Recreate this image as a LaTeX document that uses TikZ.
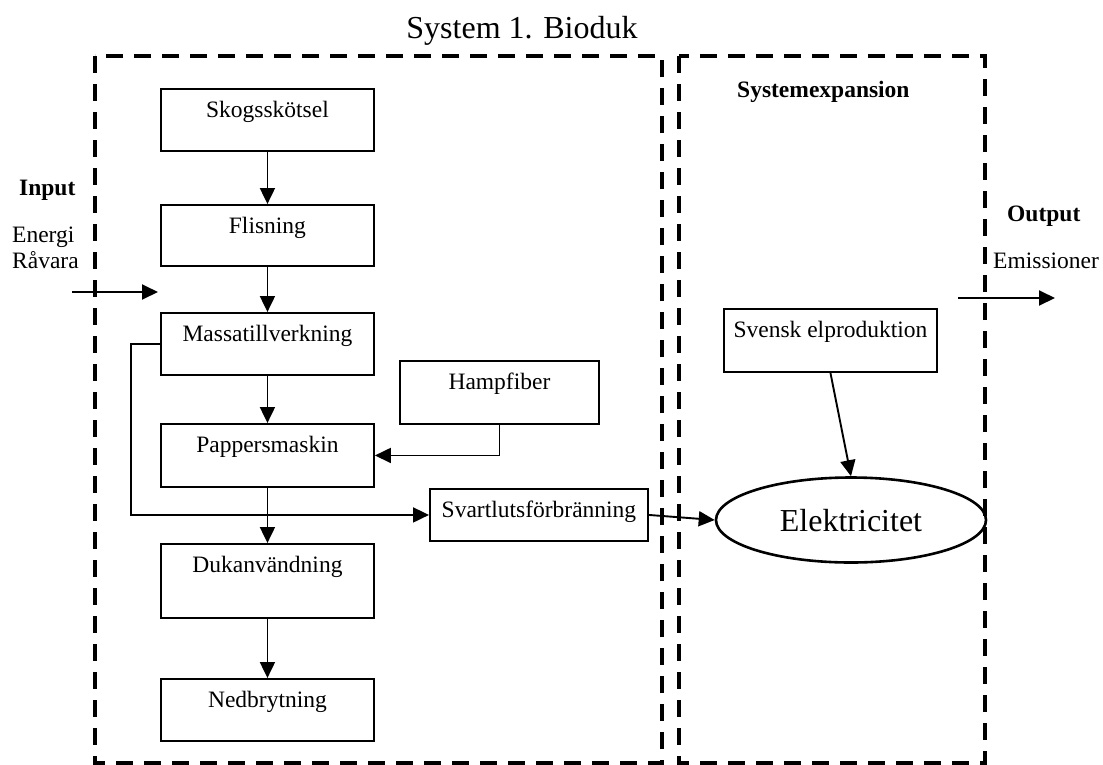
\documentclass[tikz,border=0pt]{standalone}
\usepackage{fontspec}
\setmainfont{Liberation Serif}
\usetikzlibrary{arrows.meta,shapes.geometric}

\tikzset{
  base font/.style={font=\fontsize{23.5}{28}\selectfont},
  big font/.style={font=\fontsize{32}{38}\selectfont},
  procbox/.style={draw, line width=1.9pt, rectangle, inner sep=0pt,
    text height=29pt, anchor=north west, base font},
  sysframe/.style={draw, line width=3.8pt, dash pattern=on 17pt off 11pt},
  arr/.style={line width=1.9pt, -{Triangle[length=16pt,width=15pt]}},
  label/.style={inner sep=0pt, anchor=base west, base font},
  boldlabel/.style={label, font=\fontsize{23.5}{28}\selectfont\bfseries},
}

\begin{document}
\begin{tikzpicture}[x=1pt, y=-1pt]
\useasboundingbox (0,0) rectangle (1103,764);

% system boundaries
\draw[sysframe] (95,56) rectangle (662,763);
\draw[sysframe] (679,56) rectangle (985,763);

% headings
\node[inner sep=0pt, anchor=base, big font] (title) at (522,38) {System 1. Bioduk};
\node[boldlabel] (sysexp) at (737,97) {Systemexpansion};
\node[boldlabel] (input) at (19,195) {Input};
\node[label] (energi) at (12,242) {Energi};
\node[label] (ravara) at (12,268) {Råvara};
\node[boldlabel] (output) at (1007,221) {Output};
\node[label] (emis) at (993,268) {Emissioner};

% process chain
\node[procbox, minimum width=213pt, text depth=33pt] (skog) at (160,88) {Skogsskötsel};
\node[procbox, minimum width=213pt, text depth=32pt] (flis) at (160,204) {Flisning};
\node[procbox, minimum width=213pt, text depth=33pt] (massa) at (160,312) {Massatillverkning};
\node[procbox, minimum width=199pt, text depth=34pt] (hamp) at (399,360) {Hampfiber};
\node[procbox, minimum width=213pt, text depth=34pt] (papper) at (160,423) {Pappersmaskin};
\node[procbox, minimum width=218pt, text depth=23pt] (svart) at (429,488) {Svartlutsförbränning};
\node[procbox, minimum width=213pt, text depth=45pt] (duk) at (160,543) {Dukanvändning};
\node[procbox, minimum width=213pt, text depth=33pt] (ned) at (160,678) {Nedbrytning};
\node[procbox, minimum width=213pt, text depth=34pt] (svensk) at (723,308) {Svensk elproduktion};

\node[draw, ellipse, line width=2.6pt, inner sep=0pt, minimum width=270pt,
  minimum height=85pt, text height=22pt, text depth=0pt, big font]
  (elek) at (851,520) {Elektricitet};

% flows
\draw[arr] (skog.south) -- (flis.north);
\draw[arr] (flis.south) -- (massa.north);
\draw[arr] (massa.south) -- (papper.north);
\draw[arr] (papper.south) -- (duk.north);
\draw[arr] (duk.south) -- (ned.north);
\draw[arr] (hamp.south) |- (papper.east);
\coordinate (loopx) at (131,0);
\draw[arr] (massa.west) -- (massa.west -| loopx) |- (svart.west);
\draw[arr] (svart.east) -- (elek.west);
\draw[arr] (svensk.south) -- (elek.north);

% input and output
\coordinate (inStart) at (72,292);
\coordinate (inEnd) at (158,292);
\draw[arr] (inStart) -- (inEnd);
\coordinate (outStart) at (958,298);
\coordinate (outEnd) at (1055,298);
\draw[arr] (outStart) -- (outEnd);
\end{tikzpicture}
\end{document}
